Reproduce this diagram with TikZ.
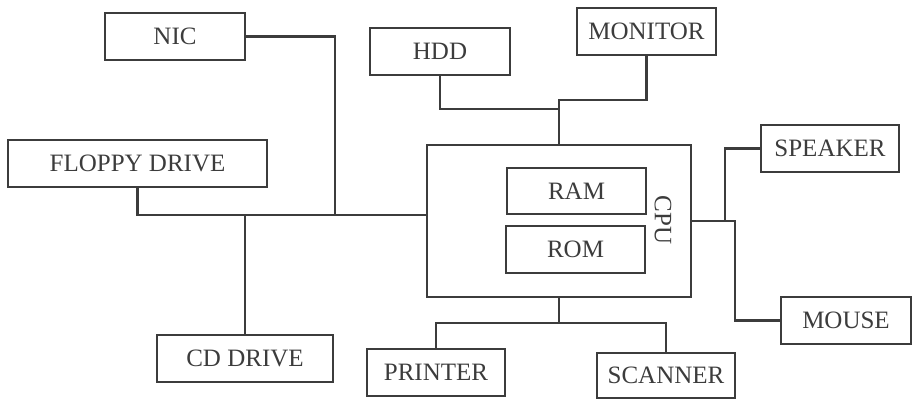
\documentclass[tikz,border=0pt]{standalone}
\usepackage{fontspec}
\setmainfont{Liberation Serif}
\definecolor{ink}{HTML}{3C3C3C}

\begin{document}
\begin{tikzpicture}[x=1pt, y=-1pt]
  \tikzset{
    caja/.style={draw=ink,text=ink,line width=2.2pt,minimum height=47pt,inner sep=0pt,font=\fontsize{25}{30}\selectfont},
    rotulo/.style={text=ink,inner sep=0pt,font=\fontsize{25}{30}\selectfont},
    enlace/.style={draw=ink,line width=2.2pt}
  }
  \useasboundingbox (0,0) rectangle (913,400);
  \node[caja,minimum width=140pt] (nic) at (175,36.5) {NIC};
  \node[caja,minimum width=140pt] (hdd) at (440,51.5) {HDD};
  \node[caja,minimum width=139pt] (monitor) at (646.5,31.5) {MONITOR};
  \node[caja,minimum width=259pt] (floppy) at (137.5,163.5) {FLOPPY DRIVE};
  \node[caja,minimum width=264pt,minimum height=152pt] (cpu) at (559,221) {};
  \node[caja,minimum width=139pt,minimum height=46pt] (ram) at (576.5,191) {RAM};
  \node[caja,minimum width=139pt] (rom) at (575.5,249.5) {ROM};
  \node[rotulo,rotate=-90] (cpulbl) at (663,220) {CPU};
  \node[caja,minimum width=138pt] (speaker) at (830,148.5) {SPEAKER};
  \node[caja,minimum width=130pt] (mouse) at (846,320.5) {MOUSE};
  \node[caja,minimum width=176pt] (cd) at (245,358.5) {CD DRIVE};
  \node[caja,minimum width=138pt] (printer) at (436,372.5) {PRINTER};
  \node[caja,minimum width=138pt,minimum height=45pt] (scanner) at (666,375.5) {SCANNER};
  \coordinate (pL) at (cpu.west |- 0,215);
  \coordinate (jN) at (335,215);
  \coordinate (jM) at (559,100);
  \coordinate (jH) at (559,109);
  \coordinate (jS) at (725,221);
  \coordinate (jR) at (735,221);
  \coordinate (jB) at (559,323);
  \draw[enlace] (floppy.south) |- (pL);
  \draw[enlace] (nic.east) -| (jN);
  \draw[enlace] (cd.north) -- (cd.north |- pL);
  \draw[enlace] (monitor.south) |- (jM) -- (cpu.north);
  \draw[enlace] (hdd.south) |- (jH);
  \draw[enlace] (speaker.west) -| (jS);
  \draw[enlace] (cpu.east) -- (jR) |- (mouse.west);
  \draw[enlace] (cpu.south) -- (jB);
  \draw[enlace] (printer.north) |- (jB);
  \draw[enlace] (scanner.north) |- (jB);
\end{tikzpicture}
\end{document}
